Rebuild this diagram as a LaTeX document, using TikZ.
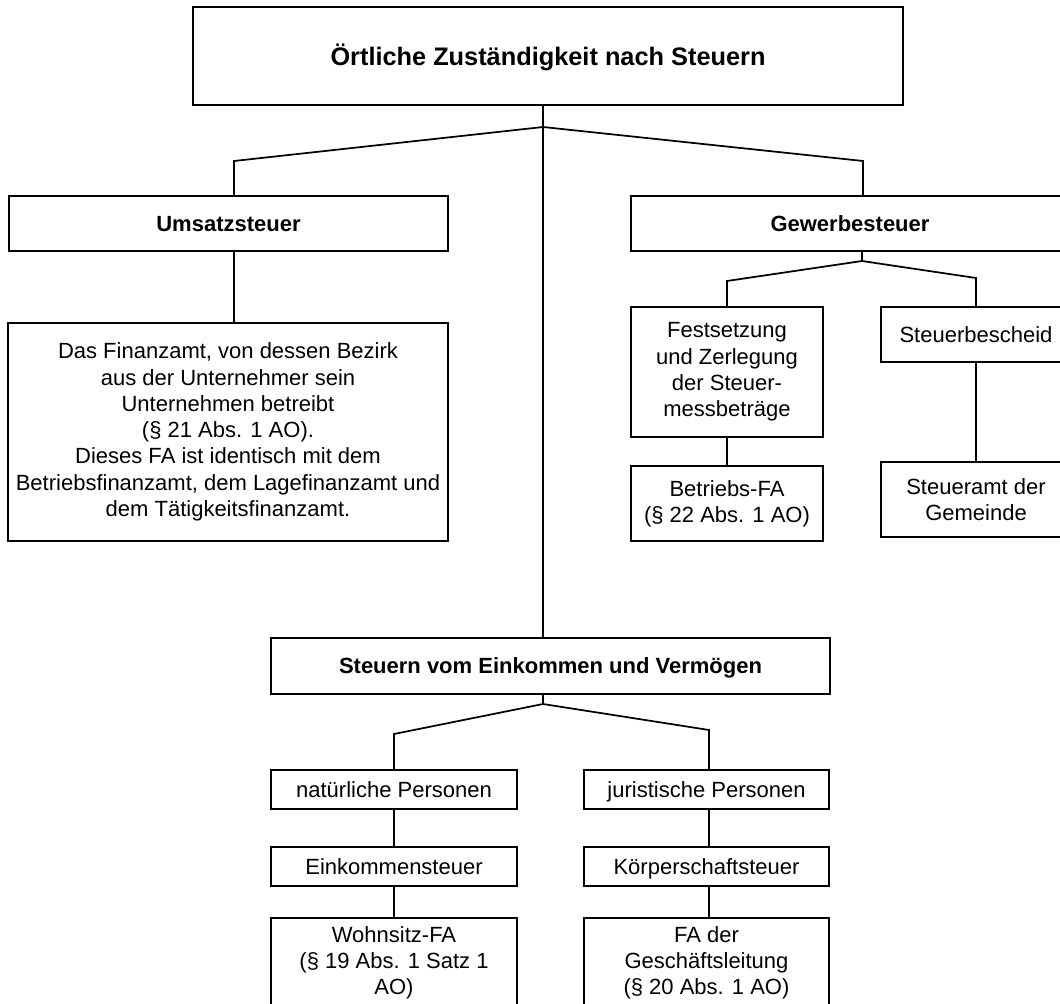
\documentclass[tikz,border=0pt]{standalone}
\usepackage{fontspec}
\setmainfont{Liberation Sans}
\newcommand\mystrut{\rule[-4pt]{0pt}{19.6pt}}
\newcommand\titlestrut{\rule[-4.5pt]{0pt}{22.5pt}}
\begin{document}
\begin{tikzpicture}[x=0.75pt,y=-0.75pt,
  box/.style={draw, line width=1.3pt, inner sep=0pt, outer sep=0pt, align=center,
    font=\fontsize{16.5}{19.7}\selectfont},
  boldbox/.style={box, font=\fontsize{16.5}{19.7}\selectfont\bfseries},
  titlebox/.style={box, font=\fontsize{19}{23}\selectfont\bfseries},
  conn/.style={line width=1.3pt}]
\newcommand\bx[7]{\node[#1, minimum width={(#5-#3)*0.75pt}, minimum height={(#6-#4)*0.75pt}, anchor=north west] (#2) at (#3,#4) {#7};}
\useasboundingbox (0,0) rectangle (1060,1003);
\fill[white] (0,0) rectangle (1060,1003);
\clip (0,0) rectangle (1060,1003);
% boxes
\bx{titlebox}{top}{193}{7}{903}{105}{\titlestrut Örtliche Zuständigkeit nach Steuern}
\bx{boldbox}{ust}{9}{196}{448}{251}{\mystrut Umsatzsteuer}
\bx{boldbox}{gew}{631}{196}{1069}{251}{\mystrut Gewerbesteuer}
\bx{box}{ustx}{8}{323}{448}{541}{Das Finanzamt, von dessen Bezirk\\aus der Unternehmer sein\\Unternehmen betreibt\\(§ 21 Abs. 1 AO).\\Dieses FA ist identisch mit dem\\Betriebsfinanzamt, dem Lagefinanzamt und\\dem Tätigkeitsfinanzamt.}
\bx{box}{fest}{631}{307}{823}{437}{Festsetzung\\und Zerlegung\\der Steuer-\\messbeträge}
\bx{box}{stb}{881}{307}{1071}{362}{\mystrut Steuerbescheid}
\bx{box}{bfa}{631}{466}{823}{541}{Betriebs-FA\\(§ 22 Abs. 1 AO)}
\bx{box}{sta}{881}{462}{1071}{537}{Steueramt der\\Gemeinde}
\bx{boldbox}{svev}{271}{638}{830}{694}{\mystrut Steuern vom Einkommen und Vermögen}
\bx{box}{nat}{271}{770}{517}{809}{\mystrut natürliche Personen}
\bx{box}{jur}{584}{770}{829}{809}{\mystrut juristische Personen}
\bx{box}{eks}{271}{847}{517}{886}{\mystrut Einkommensteuer}
\bx{box}{kst}{584}{847}{829}{886}{\mystrut Körperschaftsteuer}
\bx{box}{wfa}{271}{918}{517}{1008}{Wohnsitz-FA\\(§ 19 Abs. 1 Satz 1\\AO)}
\bx{box}{fag}{584}{918}{829}{1008}{FA der\\Geschäftsleitung\\(§ 20 Abs. 1 AO)}
% junction coordinates
\coordinate (j1) at (543,127);
\coordinate (ul) at (234,161);
\coordinate (ur) at (863,161);
\coordinate (j2) at (862,261);
\coordinate (gl) at (727,281);
\coordinate (gr) at (976,278);
\coordinate (j3) at (543,704);
\coordinate (el) at (394,734);
\coordinate (er) at (709,730);
% connectors
\draw[conn] (top.south -| j1) -- (j1) -- (ul) -- (ul |- ust.north);
\draw[conn] (j1) -- (ur) -- (ur |- gew.north);
\draw[conn] (j1) -- (j1 |- svev.north);
\draw[conn] (ust.south -| ul) -- (ustx.north -| ul);
\draw[conn] (gew.south -| j2) -- (j2) -- (gl) -- (gl |- fest.north);
\draw[conn] (j2) -- (gr) -- (gr |- stb.north);
\draw[conn] (fest.south -| gl) -- (bfa.north -| gl);
\draw[conn] (stb.south -| gr) -- (sta.north -| gr);
\draw[conn] (svev.south -| j3) -- (j3) -- (el) -- (el |- nat.north);
\draw[conn] (j3) -- (er) -- (er |- jur.north);
\draw[conn] (nat.south -| el) -- (eks.north -| el);
\draw[conn] (eks.south -| el) -- (wfa.north -| el);
\draw[conn] (jur.south -| er) -- (kst.north -| er);
\draw[conn] (kst.south -| er) -- (fag.north -| er);
\end{tikzpicture}
\end{document}
